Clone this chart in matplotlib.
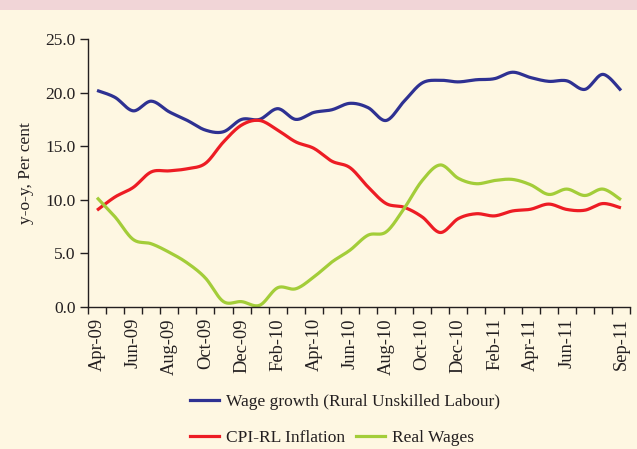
import matplotlib
matplotlib.use('Agg')
import matplotlib.pyplot as plt
from matplotlib.lines import Line2D
from matplotlib.patches import Rectangle
import numpy as np

# Monatsdaten Apr-09 .. Sep-11
months = ['Apr-09', 'May-09', 'Jun-09', 'Jul-09', 'Aug-09', 'Sep-09', 'Oct-09', 'Nov-09',
          'Dec-09', 'Jan-10', 'Feb-10', 'Mar-10', 'Apr-10', 'May-10', 'Jun-10', 'Jul-10',
          'Aug-10', 'Sep-10', 'Oct-10', 'Nov-10', 'Dec-10', 'Jan-11', 'Feb-11', 'Mar-11',
          'Apr-11', 'May-11', 'Jun-11', 'Jul-11', 'Aug-11', 'Sep-11']
wage_growth = [20.2, 19.55, 18.3, 19.2, 18.2, 17.4, 16.5, 16.35, 17.5, 17.5,
               18.5, 17.5, 18.15, 18.4, 19.0, 18.6, 17.4, 19.2, 20.9, 21.15,
               21.0, 21.2, 21.3, 21.9, 21.4, 21.05, 21.1, 20.3, 21.7, 20.2]
cpi_rl = [9.03, 10.27, 11.15, 12.6, 12.7, 12.9, 13.4, 15.4, 16.97, 17.4,
          16.5, 15.4, 14.8, 13.6, 13.0, 11.2, 9.65, 9.3, 8.4, 6.95,
          8.25, 8.7, 8.5, 8.96, 9.12, 9.6, 9.1, 9.03, 9.65, 9.25]
real_wages = [10.2, 8.4, 6.3, 5.9, 5.1, 4.1, 2.7, 0.5, 0.5, 0.16,
              1.8, 1.7, 2.8, 4.2, 5.3, 6.7, 7.0, 9.2, 11.8, 13.25,
              12.0, 11.5, 11.8, 11.9, 11.4, 10.5, 11.0, 10.4, 11.0, 10.0]
label_months = ['Apr-09', 'Jun-09', 'Aug-09', 'Oct-09', 'Dec-09', 'Feb-10', 'Apr-10',
                'Jun-10', 'Aug-10', 'Oct-10', 'Dec-10', 'Feb-11', 'Apr-11', 'Jun-11', 'Sep-11']


def smooth(y, n=20):
    # Catmull-Rom Glaettung wie bei Excel "smoothed line"
    y = np.asarray(y, dtype=float)
    x = np.arange(len(y), dtype=float)
    xp = np.concatenate([[x[0]], x, [x[-1]]])
    yp = np.concatenate([[y[0]], y, [y[-1]]])
    xs, ys = [], []
    t = np.linspace(0, 1, n, endpoint=False)
    for i in range(1, len(xp) - 2):
        for arr, out in ((xp, xs), (yp, ys)):
            p0, p1, p2, p3 = arr[i - 1], arr[i], arr[i + 1], arr[i + 2]
            out.extend(0.5 * ((2 * p1) + (-p0 + p2) * t + (2 * p0 - 5 * p1 + 4 * p2 - p3) * t ** 2
                              + (-p0 + 3 * p1 - 3 * p2 + p3) * t ** 3))
    xs.append(x[-1])
    ys.append(y[-1])
    return np.array(xs), np.array(ys)


bg = '#fef7e2'
txt = '#231f20'
plt.rcParams['font.family'] = ['Liberation Serif', 'DejaVu Serif']

fig = plt.figure(figsize=(6.37, 4.49), dpi=100, facecolor=bg)
fig.patches.append(Rectangle((0, 1 - 10 / 449), 1, 10 / 449, transform=fig.transFigure,
                             facecolor='#f1d5d7', edgecolor='none'))
ax = fig.add_axes([88 / 637, 1 - 307 / 449, (630 - 88) / 637, (307 - 39) / 449], facecolor=bg)

blue = '#2e3192'
red = '#ed1c24'
green = '#a3cd39'
for series, col in ((wage_growth, blue), (cpi_rl, red), (real_wages, green)):
    xs, ys = smooth(series)
    ax.plot(xs, ys, color=col, lw=2.3, solid_capstyle='butt')

ax.set_xlim(-0.5, len(months) - 0.5)
ax.set_ylim(0, 25)
ax.set_yticks(np.arange(0, 25.1, 5))
ax.set_yticklabels([f'{v:.1f}' for v in np.arange(0, 25.1, 5)], fontsize=12.5, color=txt)
ax.tick_params(axis='y', direction='out', length=6, width=1, color=txt, pad=3)

ax.set_xticks([months.index(m) for m in label_months])
ax.set_xticklabels(label_months, rotation=90, fontsize=13.3, color=txt)
ax.set_xticks(np.arange(-0.5, len(months), 1), minor=True)
ax.tick_params(axis='x', which='major', length=0, pad=8)
ax.tick_params(axis='x', which='minor', direction='out', length=5, width=1, color=txt)

for side in ('top', 'right'):
    ax.spines[side].set_visible(False)
for side in ('left', 'bottom'):
    ax.spines[side].set_color(txt)
    ax.spines[side].set_linewidth(1)

ax.set_ylabel('y-o-y, Per cent', fontsize=12.5, color=txt, labelpad=8)

h_blue = Line2D([], [], color=blue, lw=2.3)
h_red = Line2D([], [], color=red, lw=2.3)
h_green = Line2D([], [], color=green, lw=2.3)
fig.legend([h_blue], ['Wage growth (Rural Unskilled Labour)'], loc='center left',
           bbox_to_anchor=(190 / 637, 1 - 402 / 449), frameon=False, fontsize=12.5,
           borderpad=0, borderaxespad=0, handlelength=1.65, handletextpad=0.45,
           labelcolor=txt)
fig.legend([h_red, h_green], ['CPI-RL Inflation', 'Real Wages'], loc='center left',
           bbox_to_anchor=(190 / 637, 1 - 438 / 449), frameon=False, fontsize=12.5, ncol=2,
           borderpad=0, borderaxespad=0, handlelength=1.65, handletextpad=0.45,
           columnspacing=0.6, labelcolor=txt)

fig.savefig('out.png', dpi=100, facecolor=bg)
